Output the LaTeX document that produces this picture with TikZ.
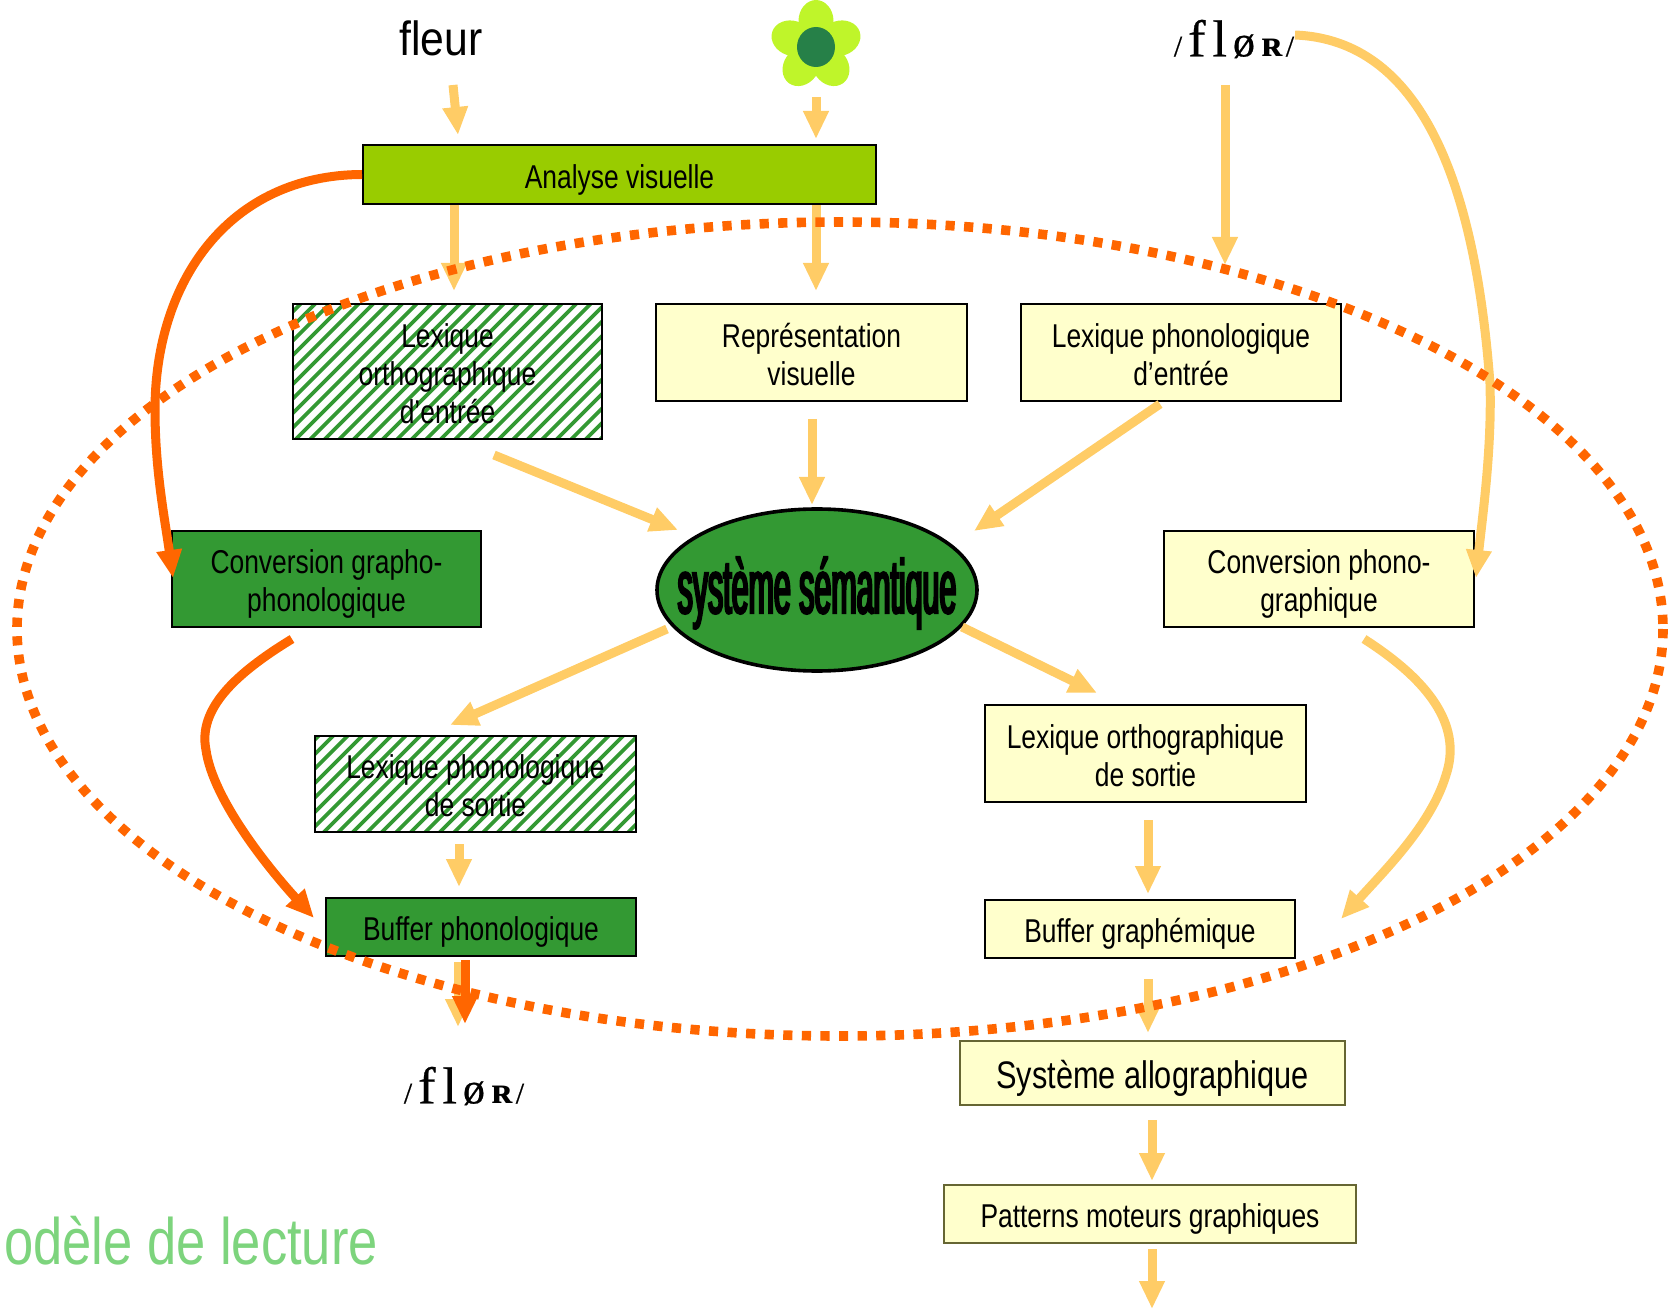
\documentclass[tikz,border=0pt]{standalone}
\usepackage{fontspec}
\setmainfont{Liberation Sans}[FakeStretch=0.8]
\newfontfamily\wordfont{Liberation Sans}[FakeStretch=0.89]
\newfontfamily\semfont{Liberation Sans}[FakeStretch=0.40,FakeBold=3]
\newfontfamily\phonfont{Liberation Serif}[FakeBold=0.5]
\newfontfamily\phonplain{Liberation Serif}
\usetikzlibrary{arrows.meta,shapes.geometric}

\definecolor{paleyellow}{HTML}{FFFFCC}
\definecolor{leafgreen}{HTML}{99CC00}
\definecolor{darkgreen}{HTML}{339933}
\definecolor{arrowyellow}{HTML}{FFCC66}
\definecolor{arroworange}{HTML}{FF6600}
\definecolor{olive}{HTML}{666633}
\definecolor{titlegreen}{HTML}{7DD47D}
\definecolor{petal}{HTML}{BFF52A}
\definecolor{heart}{HTML}{268048}

\newcommand{\florword}{{\fontsize{15}{18}\selectfont /}\kern3pt{\fontsize{26}{28}\selectfont f\kern3.5pt l}\kern3pt{\fontsize{22}{24}\selectfont ø}\kern3.5pt{\phonplain\fontsize{19}{22}\selectfont\bfseries ʀ}\kern1pt{\fontsize{15}{18}\selectfont /}}
\newcommand{\boxtop}{\rule{0pt}{17.8pt}}
\newcommand{\boxbot}{\rule[-4pt]{0pt}{4pt}}

\tikzset{
	box/.style={draw=black,line width=1pt,inner sep=0pt,align=center,font=\fontsize{16.5}{19}\selectfont},
	palebox/.style={box,fill=paleyellow},
	greenbox/.style={box,fill=darkgreen},
	hatchbox/.style={box,fill=white,path picture={
		\foreach \s in {-340,-325.5,...,340}
		{
			\draw[darkgreen,line width=1.8pt] (path picture bounding box.south) ++(\s,0) ++(-200,200) -- ++(500,-500);
		}
	}},
	olivebox/.style={palebox,draw=olive,line width=1.3pt},
	flow/.style={->,line width=4.5pt,color=arrowyellow},
	orangeflow/.style={->,line width=4.5pt,color=arroworange}
}

\begin{document}
\begin{tikzpicture}[x=0.5pt,y=-0.5pt,>={Triangle[width=12pt,length=14pt]}]
	\useasboundingbox (0,0) rectangle (1671,1310);

	% The boxes
	\node[box,fill=leafgreen,minimum width=256.5pt,minimum height=29.5pt] (analyse) at (619.5,174.5) {\boxtop Analyse visuelle\boxbot};
	\node[hatchbox,minimum width=154.5pt,minimum height=67.5pt] (lexorthin) at (447.5,371.5) {\boxtop Lexique\\orthographique\\d’entrée\boxbot};
	\node[palebox,minimum width=155.5pt,minimum height=48.5pt] (repvis) at (811.5,352.5) {\boxtop Représentation\\visuelle\boxbot};
	\node[palebox,minimum width=160pt,minimum height=48.5pt] (lexphonin) at (1181,352.5) {\boxtop Lexique phonologique\\d’entrée\boxbot};
	\node[greenbox,minimum width=154.5pt,minimum height=48pt] (convgra) at (326.5,579) {\boxtop Conversion grapho-\\phonologique\boxbot};
	\node[palebox,minimum width=155pt,minimum height=48pt] (convpho) at (1319,579) {\boxtop Conversion phono-\\graphique\boxbot};
	\node[hatchbox,minimum width=160.5pt,minimum height=48pt] (lexphonout) at (475.5,784) {\boxtop Lexique phonologique\\de sortie\boxbot};
	\node[palebox,minimum width=160.5pt,minimum height=48.5pt] (lexorthout) at (1145.5,753.5) {\boxtop Lexique orthographique\\de sortie\boxbot};
	\node[greenbox,minimum width=155pt,minimum height=29pt] (bufpho) at (481,927) {\boxtop Buffer phonologique\boxbot};
	\node[palebox,minimum width=155pt,minimum height=29pt] (bufgra) at (1140,929) {\boxtop Buffer graphémique\boxbot};
	\node[olivebox,minimum width=192.5pt,minimum height=32pt,font=\fontsize{19.2}{22}\selectfont] (allo) at (1152.5,1073) {\rule{0pt}{19pt}Système allographique\boxbot};
	\node[olivebox,minimum width=206pt,minimum height=29pt] (motor) at (1150,1214) {\boxtop Patterns moteurs graphiques\boxbot};
	\node[ellipse,draw=black,line width=1.8pt,fill=darkgreen,inner sep=0pt,minimum width=160pt,minimum height=81pt] (sem) at (817,590) {};
	\node[inner sep=0pt,font=\semfont\fontsize{38}{40}\selectfont] (semtext) at (817,593) {système sémantique};

	% The words
	\node[inner sep=0pt,font=\wordfont\fontsize{24}{28}\selectfont] (fleur) at (441,38) {fleur};
	\node[inner sep=0pt,font=\phonfont] (florin) at (1234,39) {\florword};
	\node[inner sep=0pt,font=\phonfont] (florout) at (464,1086) {\florword};
	\node[inner sep=0pt,anchor=west,text=titlegreen,font=\fontsize{32.8}{36}\selectfont] (titre) at (4,1241) {odèle de lecture};

	% The flower
	\foreach \ang in {90,162,234,306,18}
	{
		\fill[petal,shift={(816,46)},rotate=\ang] (25,0) ellipse[x radius=21,y radius=17.5];
	}
	\fill[heart] (816,47) ellipse[x radius=19,y radius=20];

	% The ends of the arrows
	\coordinate (fleur0) at (453,85);
	\coordinate (fleur1) at (458,135);
	\coordinate (fleurim0) at (816,97);
	\coordinate (fleurim1) at (816,139);
	\coordinate (ana0) at (454,205);
	\coordinate (ana1) at (454,291);
	\coordinate (anb0) at (816,205);
	\coordinate (anb1) at (816,291);
	\coordinate (pho0) at (1225,85);
	\coordinate (pho1) at (1225,265);
	\coordinate (orth0) at (494,455);
	\coordinate (orth1) at (678,530);
	\coordinate (rep0) at (812,419);
	\coordinate (rep1) at (812,505);
	\coordinate (lph0) at (1160,404);
	\coordinate (lph1) at (974,531);
	\coordinate (sema0) at (667,629);
	\coordinate (sema1) at (450,725);
	\coordinate (semb0) at (962,627);
	\coordinate (semb1) at (1097,693);
	\coordinate (sort0) at (459,844);
	\coordinate (sort1) at (459,887);
	\coordinate (losort0) at (1148,820);
	\coordinate (losort1) at (1148,894);
	\coordinate (buf0) at (458,962);
	\coordinate (buf1) at (458,1027);
	\coordinate (bufo0) at (465,960);
	\coordinate (bufo1) at (465,1024);
	\coordinate (bug0) at (1148,979);
	\coordinate (bug1) at (1148,1033);
	\coordinate (all0) at (1152,1120);
	\coordinate (all1) at (1152,1181);
	\coordinate (mot0) at (1152,1249);
	\coordinate (mot1) at (1152,1309);

	% The straight arrows
	\foreach \from/\to in {fleur0/fleur1,fleurim0/fleurim1,ana0/ana1,anb0/anb1,pho0/pho1,orth0/orth1,rep0/rep1,lph0/lph1,sema0/sema1,semb0/semb1,sort0/sort1,losort0/losort1,buf0/buf1,bug0/bug1,all0/all1,mot0/mot1}
	{
		\draw[flow] (\from) -- (\to);
	}

	% The curved arrows
	\draw[flow] (1295,35) .. controls (1420,40) and (1475,180) .. (1490,384) .. controls (1492,450) and (1482,520) .. (1476,578);
	\draw[flow] (1364,639) .. controls (1436,685) and (1461,730) .. (1446,775) .. controls (1431,825) and (1385,870) .. (1341,919);

	% The big dotted ellipse
	\draw[color=arroworange,line width=4.8pt,dash pattern=on 4.6pt off 4.7pt] (840,629) ellipse[x radius=823,y radius=407];

	\draw[orangeflow] (analyse.west) .. controls (230,175) and (155,280) .. (155,410) .. controls (155,470) and (165,520) .. (173,578);
	\draw[orangeflow] (292,639) .. controls (233,675) and (198,710) .. (206,750) .. controls (213,800) and (270,870) .. (314,918);
	\draw[orangeflow] (bufo0) -- (bufo1);
\end{tikzpicture}
\end{document}
